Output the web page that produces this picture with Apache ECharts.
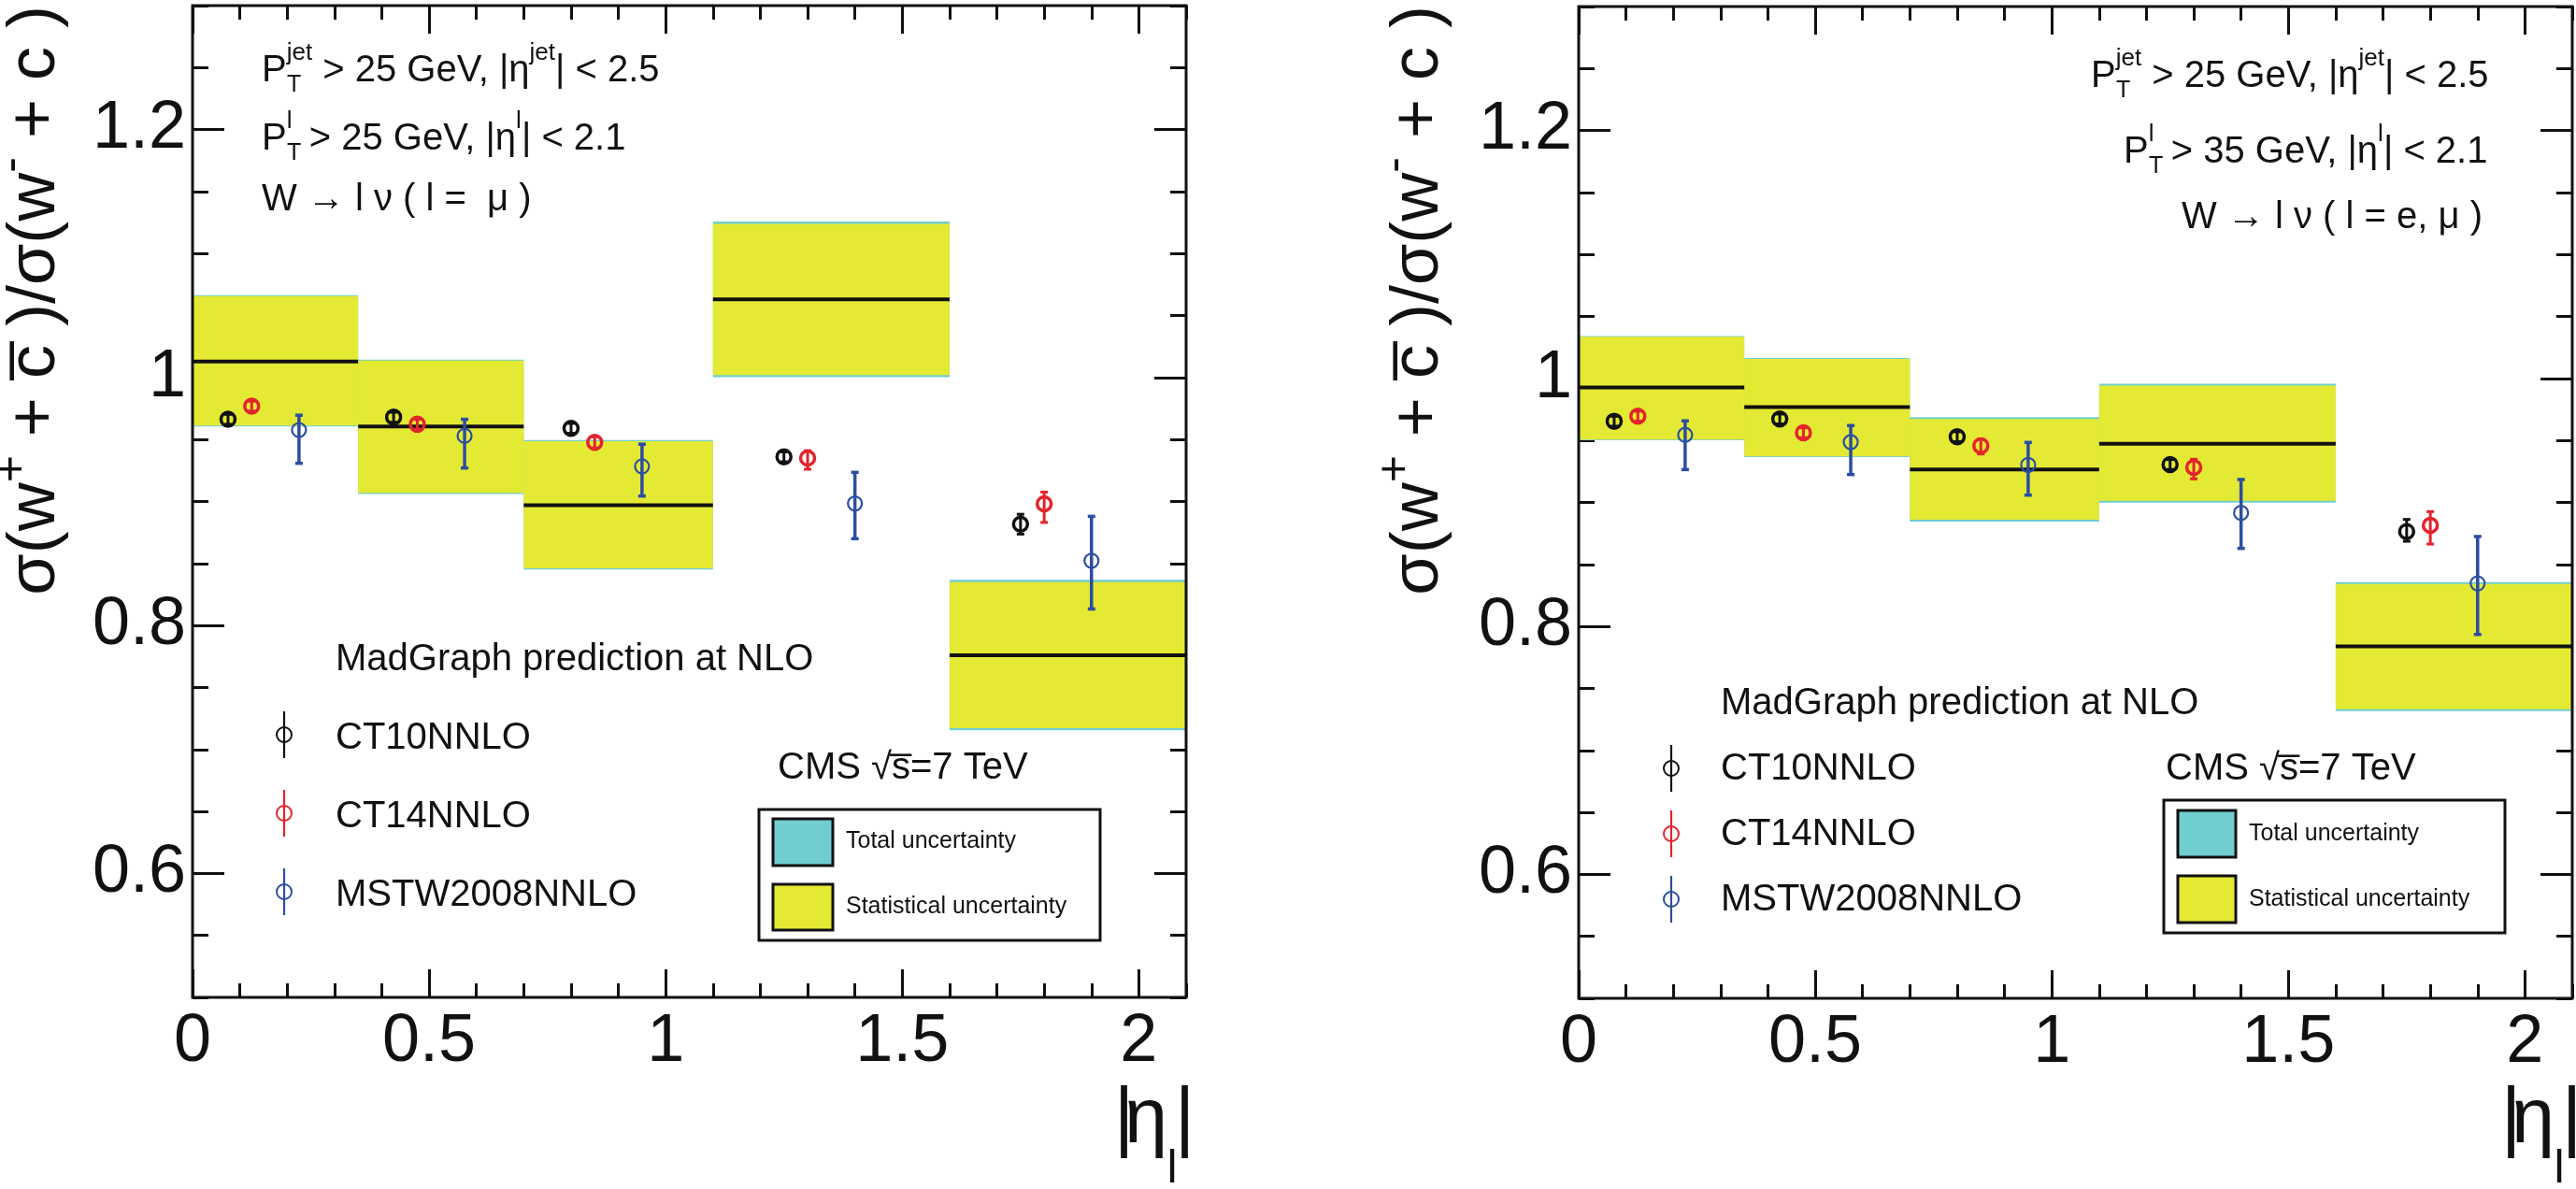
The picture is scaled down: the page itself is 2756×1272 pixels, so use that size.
<!DOCTYPE html>
<html><head><meta charset="utf-8">
<script src="https://cdn.jsdelivr.net/npm/echarts@6/dist/echarts.min.js"></script>
<style>html,body{margin:0;padding:0;background:#fff}#c{width:2756px;height:1272px}</style>
</head><body><div id="c"></div>
<script>
// ---------------- data ----------------
const binLo = [0, 0.35, 0.7, 1.1, 1.6];
const binHi = [0.35, 0.7, 1.1, 1.6, 2.1];
const xTickVals = [0, 0.5, 1, 1.5, 2];
const yTickVals = [0.6, 0.8, 1.0, 1.2];

// Left panel: W -> l nu (l = mu)
const muData    = [1.013, 0.9605, 0.897, 1.063, 0.776];
const muStatUp  = [1.0657, 1.0136, 0.9487, 1.124, 0.835];
const muStatDn  = [0.9613, 0.9069, 0.846, 1.002, 0.7172];
const muTotUp   = [1.0665, 1.0144, 0.9495, 1.1258, 0.8368];
const muTotDn   = [0.9605, 0.9061, 0.8452, 1.0002, 0.7155];

const ct10X = [0.075, 0.425, 0.8, 1.25, 1.75];
const ct14X = [0.125, 0.475, 0.85, 1.3, 1.8];
const mstwX = [0.225, 0.575, 0.95, 1.4, 1.9];

const muCT10   = [0.9663, 0.968, 0.959, 0.936, 0.8817];
const muCT10Up = [0.9703, 0.972, 0.963, 0.940, 0.8897];
const muCT10Dn = [0.9623, 0.964, 0.955, 0.932, 0.8737];
const muCT14   = [0.9769, 0.9623, 0.9477, 0.935, 0.8981];
const muCT14Up = [0.9809, 0.9663, 0.9522, 0.941, 0.9076];
const muCT14Dn = [0.9729, 0.9583, 0.9432, 0.926, 0.8831];
const muMSTW   = [0.9577, 0.953, 0.9283, 0.8984, 0.8522];
const muMSTWUp = [0.9696, 0.9663, 0.9462, 0.9235, 0.888];
const muMSTWDn = [0.9308, 0.927, 0.9044, 0.870, 0.8133];

// Right panel: W -> l nu (l = e, mu)
const lepData   = [0.9927, 0.9769, 0.9265, 0.9474, 0.7839];
const lepStatUp = [1.0337, 1.0158, 0.9673, 0.9942, 0.8342];
const lepStatDn = [0.9507, 0.9371, 0.886, 0.9014, 0.7331];
const lepTotUp  = [1.0343, 1.0164, 0.9688, 0.9957, 0.8357];
const lepTotDn  = [0.9501, 0.9365, 0.8845, 0.8999, 0.7316];

const lepCT10   = [0.9655, 0.9673, 0.953, 0.9306, 0.8765];
const lepCT10Up = [0.9695, 0.9713, 0.957, 0.9346, 0.8863];
const lepCT10Dn = [0.9615, 0.9633, 0.949, 0.9266, 0.8687];
const lepCT14   = [0.9696, 0.9562, 0.9457, 0.9283, 0.8815];
const lepCT14Up = [0.9736, 0.9602, 0.9512, 0.9348, 0.8926];
const lepCT14Dn = [0.9656, 0.9522, 0.9391, 0.919, 0.8664];
const lepMSTW   = [0.9545, 0.9487, 0.9303, 0.8916, 0.8347];
const lepMSTWUp = [0.9658, 0.962, 0.9484, 0.9185, 0.8725];
const lepMSTWDn = [0.9265, 0.9225, 0.9059, 0.8629, 0.7935];

const legendNames = ['CT10NNLO', 'CT14NNLO', 'MSTW2008NNLO'];

// ---------------- style ----------------
const FONT = 'Liberation Sans, Arial, Helvetica, sans-serif';
const INK = '#111111';
const YELLOW = '#e4ea33';
const CYAN = '#70ced0';
const RED = '#e3242b';
const BLUE = '#2b4ea2';
const GRIDS = [
  {left: 206, top: 6, width: 1063, height: 1061},
  {left: 1689, top: 7, width: 1063, height: 1061}
];

function axisSet(g, isX) {
  const common = {gridIndex: g, type: 'value', min: isX ? 0 : 0.5, max: isX ? 2.1 : 1.3,
    splitLine: {show: false}, axisLine: {show: false, onZero: false}};
  const majors = isX ? xTickVals : yTickVals;
  const ts = {color: INK, width: 3};
  const pA = isX ? 'bottom' : 'left', pB = isX ? 'top' : 'right';
  const majLen = isX ? 30 : 34, minLen = isX ? 15 : 17;
  const step = isX ? 0.1 : 0.05;
  return [
    Object.assign({}, common, {position: pA, interval: isX ? 0.5 : 0.1,
      axisTick: {inside: true, length: majLen, customValues: majors, lineStyle: ts},
      axisLabel: {customValues: majors, fontSize: 72, fontFamily: FONT, color: INK, margin: isX ? 12 : 7}}),
    Object.assign({}, common, {position: pA, interval: step,
      axisTick: {inside: true, length: minLen, lineStyle: ts}, axisLabel: {show: false}}),
    Object.assign({}, common, {position: pB, interval: isX ? 0.5 : 0.1,
      axisTick: {inside: true, length: majLen, customValues: majors, lineStyle: ts}, axisLabel: {show: false}}),
    Object.assign({}, common, {position: pB, interval: step,
      axisTick: {inside: true, length: minLen, lineStyle: ts}, axisLabel: {show: false}})
  ];
}

function bandSeries(g, up, dn, color) {
  return {type: 'custom', xAxisIndex: 4 * g, yAxisIndex: 4 * g, silent: true, z: 2,
    encode: {x: [0, 1], y: [2, 3]},
    data: binLo.map((v, i) => [v, binHi[i], up[i], dn[i]]),
    renderItem(params, api) {
      const p1 = api.coord([api.value(0), api.value(2)]);
      const p2 = api.coord([api.value(1), api.value(3)]);
      return {type: 'rect', shape: {x: p1[0], y: p1[1], width: p2[0] - p1[0], height: p2[1] - p1[1]},
        style: {fill: color}};
    }};
}
function centralSeries(g, vals) {
  return {type: 'custom', xAxisIndex: 4 * g, yAxisIndex: 4 * g, silent: true, z: 3,
    encode: {x: [0, 1], y: 2},
    data: binLo.map((v, i) => [v, binHi[i], vals[i]]),
    renderItem(params, api) {
      const p1 = api.coord([api.value(0), api.value(2)]);
      const p2 = api.coord([api.value(1), api.value(2)]);
      return {type: 'line', shape: {x1: p1[0], y1: p1[1], x2: p2[0], y2: p2[1]},
        style: {stroke: INK, lineWidth: 4}};
    }};
}
function pointSeries(g, name, xs, ys, ups, dns, color, o) {
  return {type: 'custom', name, xAxisIndex: 4 * g, yAxisIndex: 4 * g, silent: true, z: 5,
    encode: {x: 0, y: [1, 2, 3]},
    data: xs.map((x, i) => [x, ys[i], ups[i], dns[i]]),
    renderItem(params, api) {
      const c = api.coord([api.value(0), api.value(1)]);
      const u = api.coord([api.value(0), api.value(2)]);
      const d = api.coord([api.value(0), api.value(3)]);
      const st = {stroke: color, lineWidth: o.lw};
      return {type: 'group', children: [
        {type: 'line', shape: {x1: c[0], y1: u[1], x2: c[0], y2: d[1]}, style: st},
        {type: 'line', shape: {x1: c[0] - o.cw, y1: u[1], x2: c[0] + o.cw, y2: u[1]}, style: st},
        {type: 'line', shape: {x1: c[0] - o.cw, y1: d[1], x2: c[0] + o.cw, y2: d[1]}, style: st},
        {type: 'circle', shape: {cx: c[0], cy: c[1], r: o.r}, style: {fill: null, stroke: color, lineWidth: o.sw}}
      ]};
    }};
}
const darkOpt = {lw: 3, cw: 4, r: 7.5, sw: 3.5};
const blueOpt = {lw: 3.5, cw: 4, r: 7.5, sw: 2.2};

// ---------------- graphic text helpers ----------------
function txt(x, y, text, size, extra) {
  return {type: 'text', x, y, z: 100, silent: true,
    style: Object.assign({text, fontSize: size, fontFamily: FONT, fill: INK, align: 'left', verticalAlign: 'middle'}, extra || {})};
}
const supRich = {b: {fontSize: 40, fontFamily: FONT, fill: INK}, sup: {fontSize: 26, fontFamily: FONT, fill: INK, padding: [0, 0, 38, 0]}};
function cutLine(x, baseline, text) { return txt(x, baseline - 14, text, 40, {rich: supRich}); }
function subT(x, baseline) { return txt(x, baseline - 9, 'T', 25); }

function legendMarker(x, cy, color) {
  return {type: 'group', z: 100, silent: true, children: [
    {type: 'line', shape: {x1: x, y1: cy - 25, x2: x, y2: cy + 25}, style: {stroke: color, lineWidth: 2.2}},
    {type: 'circle', shape: {cx: x, cy: cy, r: 8}, style: {fill: null, stroke: color, lineWidth: 2}}
  ]};
}
const yTitleRich = {b: {fontSize: 72, fontFamily: FONT, fill: INK}, sup: {fontSize: 50, fontFamily: FONT, fill: INK, padding: [0, 0, 50, 0]}};
function yTitle(x) {
  return {type: 'text', x, y: 6, rotation: Math.PI / 2, z: 100, silent: true,
    style: {text: '{b|σ(w}{sup|+}{b| + c\u0305 )/σ(w}{sup|-}{b| + c )}', rich: yTitleRich,
      align: 'right', verticalAlign: 'middle', fontSize: 72, fontFamily: FONT, fill: INK}};
}
function xTitle(dx) {
  return [
    txt(1202.5 + dx, 1199, '|', 83, {align: 'center'}),
    txt(1226 + dx, 1199, 'η', 83, {align: 'center'}),
    txt(1254 + dx, 1251, 'l', 50, {align: 'center'}),
    txt(1267.5 + dx, 1199, '|', 83, {align: 'center'})
  ];
}
function uncBox(x0, y0, x1, y1, sw, sy1, sy2, tx, ty1, ty2) {
  return [
    {type: 'rect', z: 100, silent: true, shape: {x: x0, y: y0, width: x1 - x0, height: y1 - y0}, style: {fill: '#fff', stroke: INK, lineWidth: 3}},
    {type: 'rect', z: 101, silent: true, shape: {x: sw[0], y: sy1[0], width: sw[1] - sw[0], height: sy1[1] - sy1[0]}, style: {fill: CYAN, stroke: INK, lineWidth: 3}},
    {type: 'rect', z: 101, silent: true, shape: {x: sw[0], y: sy2[0], width: sw[1] - sw[0], height: sy2[1] - sy2[0]}, style: {fill: YELLOW, stroke: INK, lineWidth: 3}},
    txt(tx, ty1, 'Total uncertainty', 25, {z: 102}),
    txt(tx, ty2, 'Statistical uncertainty', 25, {z: 102})
  ];
}

const graphics = [];
// frames
GRIDS.forEach(g => graphics.push({type: 'rect', z: 90, silent: true,
  shape: {x: g.left, y: g.top, width: g.width, height: g.height}, style: {fill: null, stroke: INK, lineWidth: 3}}));
// left panel annotations
graphics.push(cutLine(280, 90, '{b|P}{sup|jet}{b| > 25 GeV, |η}{sup|jet}{b|| < 2.5}'), subT(307, 100));
graphics.push(cutLine(280, 163, '{b|P}{sup|l }{b| > 25 GeV, |η}{sup|l}{b|| < 2.1}'), subT(307, 173));
graphics.push(txt(280, 214, 'W → l ν ( l =  μ )', 40));
graphics.push(txt(359, 706, 'MadGraph prediction at NLO', 40));
[[786, INK], [870, RED], [954, BLUE]].forEach((m, i) => {
  graphics.push(legendMarker(304, m[0], m[1]), txt(359, m[0] + 4, legendNames[i], 40));
});
graphics.push(txt(832, 822, 'CMS √s\u0305=7 TeV', 40));
uncBox(812, 866, 1177, 1006, [827, 891], [876, 926], [946, 995], 905, 900, 970).forEach(e => graphics.push(e));
graphics.push(yTitle(38));
xTitle(0).forEach(e => graphics.push(e));
// right panel annotations
graphics.push(cutLine(2237, 96, '{b|P}{sup|jet}{b| > 25 GeV, |η}{sup|jet}{b|| < 2.5}'), subT(2264, 106));
graphics.push(cutLine(2272, 177, '{b|P}{sup|l }{b| > 35 GeV, |η}{sup|l}{b|| < 2.1}'), subT(2299, 187));
graphics.push(txt(2334, 233, 'W → l ν ( l = e, μ )', 40));
graphics.push(txt(1841, 753, 'MadGraph prediction at NLO', 40));
[[822, INK], [892, RED], [962, BLUE]].forEach((m, i) => {
  graphics.push(legendMarker(1788, m[0], m[1]), txt(1841, m[0] + 1, legendNames[i], 40));
});
graphics.push(txt(2317, 823, 'CMS √s\u0305=7 TeV', 40));
uncBox(2315, 856, 2680, 998, [2330, 2392], [867, 917], [937, 987], 2406, 892, 962).forEach(e => graphics.push(e));
graphics.push(yTitle(1518));
xTitle(1484).forEach(e => graphics.push(e));

const option = {
  animation: false,
  backgroundColor: '#ffffff',
  grid: GRIDS.map(g => Object.assign({show: false, containLabel: false}, g)),
  xAxis: [].concat(axisSet(0, true), axisSet(1, true)),
  yAxis: [].concat(axisSet(0, false), axisSet(1, false)),
  series: [
    bandSeries(0, muTotUp, muTotDn, CYAN),
    bandSeries(0, muStatUp, muStatDn, YELLOW),
    centralSeries(0, muData),
    pointSeries(0, 'CT10NNLO', ct10X, muCT10, muCT10Up, muCT10Dn, INK, darkOpt),
    pointSeries(0, 'CT14NNLO', ct14X, muCT14, muCT14Up, muCT14Dn, RED, darkOpt),
    pointSeries(0, 'MSTW2008NNLO', mstwX, muMSTW, muMSTWUp, muMSTWDn, BLUE, blueOpt),
    bandSeries(1, lepTotUp, lepTotDn, CYAN),
    bandSeries(1, lepStatUp, lepStatDn, YELLOW),
    centralSeries(1, lepData),
    pointSeries(1, 'CT10NNLO', ct10X, lepCT10, lepCT10Up, lepCT10Dn, INK, darkOpt),
    pointSeries(1, 'CT14NNLO', ct14X, lepCT14, lepCT14Up, lepCT14Dn, RED, darkOpt),
    pointSeries(1, 'MSTW2008NNLO', mstwX, lepMSTW, lepMSTWUp, lepMSTWDn, BLUE, blueOpt)
  ],
  graphic: graphics
};
const chart = echarts.init(document.getElementById('c'), null, {renderer: 'canvas'});
chart.setOption(option);
</script>
</body></html>
